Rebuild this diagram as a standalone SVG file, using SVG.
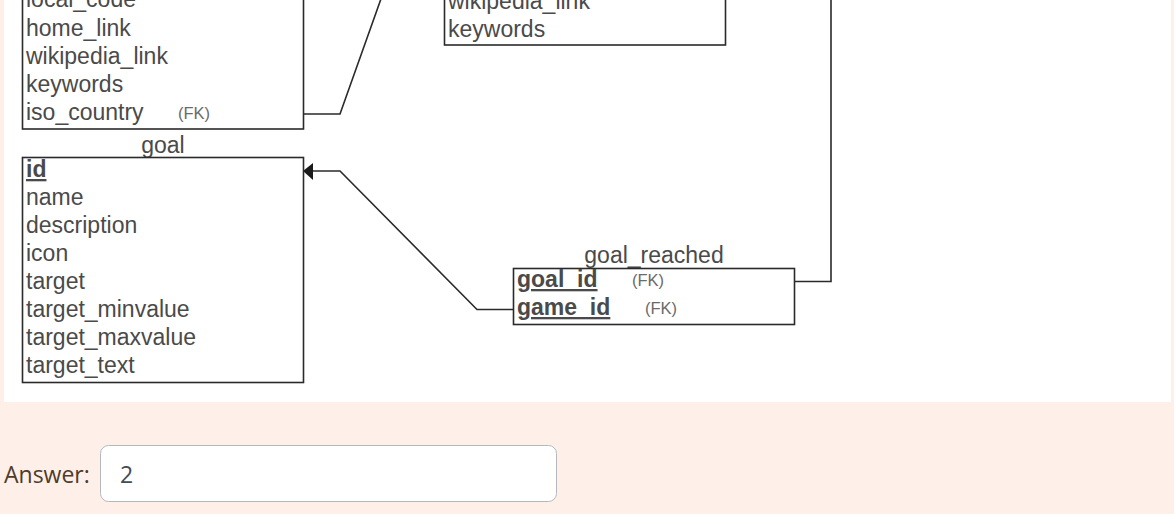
<svg xmlns="http://www.w3.org/2000/svg" width="1174" height="514" viewBox="0 0 1174 514">
<style>
.bg{fill:#fef0e8}
.tbl{fill:#fff;stroke:#2a2a2a;stroke-width:1.6}
.f{font-family:"Liberation Sans",Arial,sans-serif;font-size:23px;fill:#4a4a4a}
.pk{font-weight:bold;text-decoration:underline}
.fk{font-family:"Liberation Sans",Arial,sans-serif;font-size:16.5px;fill:#6a6a6a}
.lbl{font-family:"Liberation Sans",Arial,sans-serif;font-size:23px;fill:#4a4a4a;text-anchor:middle}
.con{fill:none;stroke:#2a2a2a;stroke-width:1.6}
.ans{font-family:"Open Sans","Noto Sans",sans-serif;font-size:23px}
</style>
<rect class="bg" x="0" y="0" width="1174" height="514"/>
<rect x="4" y="0" width="1167" height="402" fill="#fff"/>

<g id="connectors">
<path class="con" d="M303,114 H340 L382,-4"/>
<path class="con" d="M313,171 H340 L477,309.5 H513"/>
<polygon points="303,171 313,163 313,180" fill="#1a1a1a"/>
<path class="con" d="M831,-2 V281.5 H795"/>
</g>

<g id="table-left-top">
<rect class="tbl" x="22.5" y="-10" width="281" height="139"/>
<text class="f" x="26" y="7">local_code</text>
<text class="f" x="26" y="36">home_link</text>
<text class="f" x="26" y="64">wikipedia_link</text>
<text class="f" x="26" y="92">keywords</text>
<text class="f" x="26" y="120">iso_country</text>
<text class="fk" x="178" y="119">(FK)</text>
</g>

<g id="table-middle-top">
<rect class="tbl" x="444.5" y="-10" width="281" height="55"/>
<text class="f" x="448" y="9">wikipedia_link</text>
<text class="f" x="448" y="37">keywords</text>
</g>

<g id="goal">
<text class="lbl" x="163" y="153">goal</text>
<rect class="tbl" x="22.5" y="157.5" width="281" height="225"/>
<text class="f pk" x="26" y="177">id</text>
<text class="f" x="26" y="205">name</text>
<text class="f" x="26" y="233">description</text>
<text class="f" x="26" y="261">icon</text>
<text class="f" x="26" y="289">target</text>
<text class="f" x="26" y="317">target_minvalue</text>
<text class="f" x="26" y="345">target_maxvalue</text>
<text class="f" x="26" y="373">target_text</text>
</g>

<g id="goal_reached">
<text class="lbl" x="654" y="263">goal_reached</text>
<rect class="tbl" x="513.5" y="268.5" width="281" height="56"/>
<text class="f pk" x="517" y="287">goal_id</text>
<text class="fk" x="632" y="286">(FK)</text>
<text class="f pk" x="517" y="315">game_id</text>
<text class="fk" x="645" y="314">(FK)</text>
</g>

<g id="answer">
<text class="ans" x="4" y="483" fill="#4e3b2c">Answer:</text>
<rect x="100.5" y="445.5" width="456" height="56" rx="8" fill="#fff" stroke="#b4b8bd" stroke-width="1"/>
<text class="ans" x="120" y="483" fill="#444b52">2</text>
</g>
</svg>
